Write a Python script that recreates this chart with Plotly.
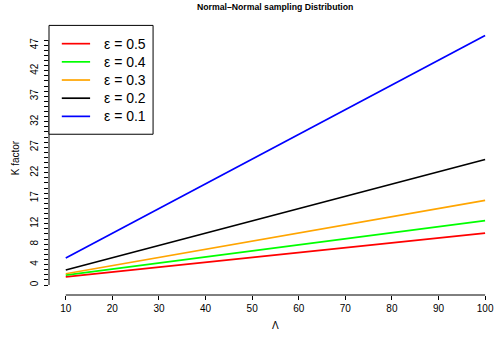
import plotly.graph_objects as go

# K factor against Lambda for several epsilon levels
lam = [10, 100]
eps_labels = ["0.5", "0.4", "0.3", "0.2", "0.1"]
k_eps05 = [1.6, 10.15]
k_eps04 = [1.95, 12.6]
k_eps03 = [2.2, 16.6]
k_eps02 = [2.93, 24.6]
k_eps01 = [5.3, 48.9]
colors = ["#FF0000", "#00FF00", "#FFA500", "#000000", "#0000FF"]

x_ticks = [10, 20, 30, 40, 50, 60, 70, 80, 90, 100]
y_tick_labels = [0, 4, 8, 12, 17, 22, 27, 32, 37, 42, 47]
y_tick_max = 48

series = [k_eps05, k_eps04, k_eps03, k_eps02, k_eps01]

FONT = "Liberation Sans, Arial, Helvetica, sans-serif"
W, H = 494, 337
L, T, R, B = 48.9, 24.6, 0, 42
plot_w = W - L - R
plot_h = H - T - B


def px_to_paper(px, py):
    return (px - L) / plot_w, (H - B - py) / plot_h


fig = go.Figure()
for lab, ys, col in zip(eps_labels, series, colors):
    fig.add_trace(go.Scatter(
        x=lam, y=ys, mode="lines", name="ε = " + lab,
        line=dict(color=col, width=1.7), showlegend=False,
    ))

# axis lines span only the tick range
fig.add_shape(type="line", xref="x", yref="paper", x0=x_ticks[0], x1=x_ticks[-1],
              y0=0, y1=0, line=dict(color="black", width=1))
fig.add_shape(type="line", xref="paper", yref="y", x0=0, x1=0,
              y0=0, y1=y_tick_max, line=dict(color="black", width=1))

# boxed key in the top-left corner
bx0, by0 = px_to_paper(48.9, 25)
bx1, by1 = px_to_paper(153, 134)
fig.add_shape(type="rect", xref="paper", yref="paper", x0=bx0, x1=bx1, y0=by1, y1=by0,
              line=dict(color="black", width=1), fillcolor="white", layer="above")
for i, (lab, col) in enumerate(zip(eps_labels, colors)):
    row_y = 43.3 + i * 18.2
    lx0, ly = px_to_paper(61.7, row_y)
    lx1, _ = px_to_paper(90, row_y)
    fig.add_shape(type="line", xref="paper", yref="paper", x0=lx0, x1=lx1, y0=ly, y1=ly,
                  line=dict(color=col, width=1.7), layer="above")
    tx, _ = px_to_paper(101.5, row_y)
    fig.add_annotation(xref="paper", yref="paper", x=tx, y=ly, xanchor="left", yanchor="middle",
                       text="ε = " + lab, showarrow=False,
                       font=dict(family=FONT, size=14, color="black"))

# axis titles
xl_x, xl_y = px_to_paper(275.3, 325.7)
fig.add_annotation(xref="paper", yref="paper", x=xl_x, y=xl_y, text="Λ", showarrow=False,
                   xanchor="center", yanchor="middle", font=dict(family=FONT, size=10, color="black"))
yl_x, yl_y = px_to_paper(15, 158)
fig.add_annotation(xref="paper", yref="paper", x=yl_x, y=yl_y, text="K factor", showarrow=False,
                   textangle=-90, xanchor="center", yanchor="middle",
                   font=dict(family=FONT, size=10, color="black"))
tt_x, tt_y = px_to_paper(275.3, 7)
fig.add_annotation(xref="paper", yref="paper", x=tt_x, y=tt_y,
                   text="<b>Normal\u2013Normal sampling Distribution</b>", showarrow=False,
                   xanchor="center", yanchor="middle", font=dict(family=FONT, size=8.7, color="black"))

y_vals = list(range(0, y_tick_max + 1))
y_text = [str(v) if v in y_tick_labels else "" for v in y_vals]

fig.update_layout(
    width=W, height=H,
    margin=dict(l=L, r=R, t=T, b=B, pad=0),
    paper_bgcolor="white", plot_bgcolor="white",
    showlegend=False,
    xaxis=dict(range=[6.4, 10 + (W - 65.7) / 4.66], tickvals=x_ticks,
               ticks="outside", ticklen=4, tickwidth=1, tickcolor="black",
               showgrid=False, zeroline=False, showline=False,
               tickfont=dict(family=FONT, size=10, color="black"), automargin=False),
    yaxis=dict(range=[-1.96, 50.96], tickvals=y_vals, ticktext=y_text,
               ticks="outside", ticklen=4, tickwidth=1, tickcolor="black",
               showgrid=False, zeroline=False, showline=False, tickangle=-90,
               ticklabelstandoff=2,
               tickfont=dict(family=FONT, size=10, color="black"), automargin=False),
)

fig.write_html("out.html")
